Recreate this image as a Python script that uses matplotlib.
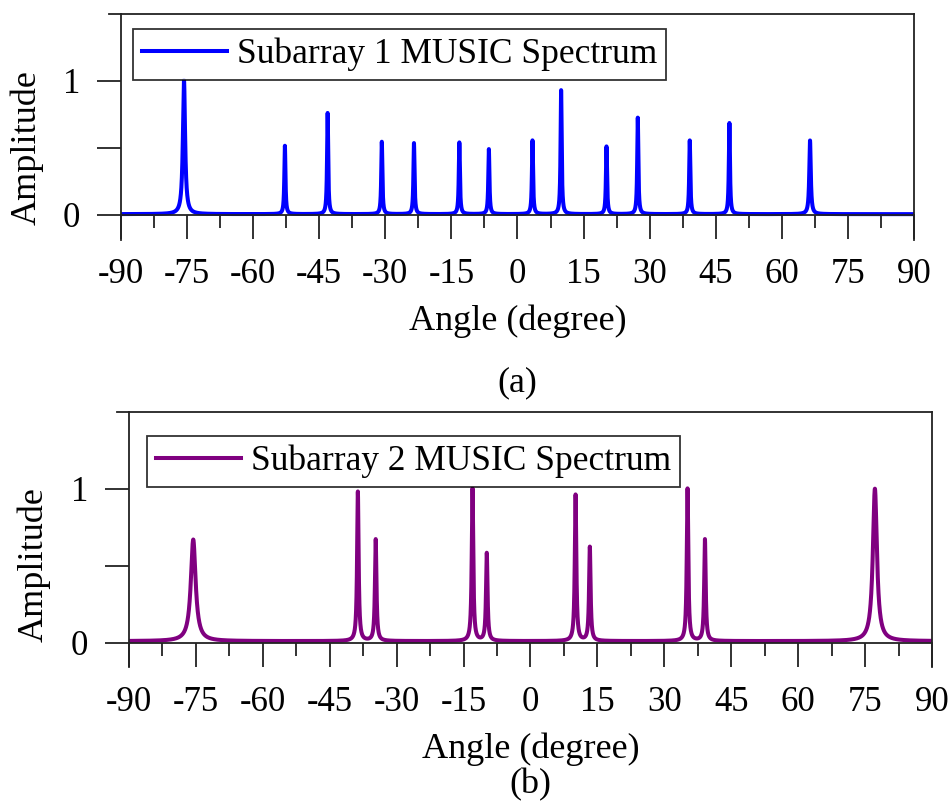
import numpy as np
import matplotlib
matplotlib.use("Agg")
import matplotlib.pyplot as plt
from matplotlib.ticker import MultipleLocator
from matplotlib.lines import Line2D

plt.rcParams["font.family"] = ["Liberation Serif", "DejaVu Serif"]

# peak angles (deg), heights and half-widths of each MUSIC spectrum
sub1_angles = [-75.7, -52.8, -43.1, -30.8, -23.5, -13.2, -6.5, 3.4, 9.9, 20.2, 27.3, 39.1, 48.1, 66.4]
sub1_amps = [1.0, 0.51, 0.755, 0.54, 0.53, 0.535, 0.485, 0.55, 0.925, 0.505, 0.72, 0.55, 0.68, 0.55]
sub1_widths = [0.3, 0.15, 0.15, 0.15, 0.15, 0.15, 0.15, 0.15, 0.15, 0.15, 0.15, 0.15, 0.15, 0.2]
sub1_floor = 0.006

sub2_angles = [-75.6, -38.7, -34.7, -13.0, -9.8, 10.1, 13.3, 35.2, 39.1, 77.2]
sub2_amps = [0.66, 0.97, 0.66, 0.99, 0.57, 0.95, 0.61, 0.99, 0.66, 0.99]
sub2_widths = [0.65, 0.2, 0.2, 0.2, 0.2, 0.2, 0.2, 0.2, 0.2, 0.55]
sub2_floor = 0.012

x_ticks = list(range(-90, 91, 15))


def spectrum(theta, angles, amps, widths, floor):
    y = np.full_like(theta, floor)
    for a, h, w in zip(angles, amps, widths):
        y = y + h * w**2 / ((theta - a) ** 2 + w**2)
    return y


theta = np.linspace(-90, 90, 18001)

fig = plt.figure(figsize=(9.53, 8.05), dpi=100)
W, H = 953, 805


def make_axes(left, right, top, bottom):
    return fig.add_axes([left / W, 1 - bottom / H, (right - left) / W, (bottom - top) / H])


def style(ax, ymin, label_y, color, data, label, legend_xy, tag, tag_y):
    ax.plot(theta, data, color=color, lw=2.9, label=label, solid_joinstyle="round")
    ax.set_xlim(-90, 90)
    ax.set_ylim(ymin, 1.5)
    ax.spines["bottom"].set_position(("data", 0))
    for s in ax.spines.values():
        s.set_linewidth(1.3)
        s.set_color("#222222")
    ax.set_xticks(x_ticks)
    ax.set_xticklabels([str(t) for t in x_ticks])
    ax.xaxis.set_minor_locator(MultipleLocator(7.5))
    ax.set_yticks([0, 0.5, 1])
    ax.set_yticklabels(["0", "", "1"])
    ax.tick_params(axis="x", which="major", direction="out", length=17.5, width=1.3,
                   labelsize=25, pad=13.5, color="#222222")
    ax.tick_params(axis="x", which="minor", direction="out", length=9.5, width=1.3, color="#222222")
    ax.tick_params(axis="y", which="major", direction="out", length=17.5, width=1.3,
                   labelsize=25, pad=12, color="#222222")
    ax.set_xlabel("Angle (degree)", fontsize=26, labelpad=10)
    ax.set_ylabel("Amplitude", fontsize=26)
    ax.yaxis.set_label_coords(-0.097, label_y)
    # small overhang of the top frame line past the left spine
    ax.add_line(Line2D([-0.015, 0], [1, 1], transform=ax.transAxes, color="#222222",
                       lw=1.3, clip_on=False))
    leg = ax.legend(loc="upper left", bbox_to_anchor=legend_xy, fontsize=25.5, frameon=True,
                    fancybox=False, borderaxespad=0, borderpad=0.25, handlelength=2.4,
                    handletextpad=0.3)
    leg.get_frame().set_edgecolor("black")
    leg.get_frame().set_linewidth(1.3)
    fig.text(ax.get_position().x0 + ax.get_position().width / 2, 1 - tag_y / H, tag,
             ha="center", va="center", fontsize=26)


ax1 = make_axes(121, 914, 14, 240)
style(ax1, -0.187, 0.41, "#0000ff",
      spectrum(theta, sub1_angles, sub1_amps, sub1_widths, sub1_floor),
      "Subarray 1 MUSIC Spectrum", (0.015, 0.934), "(a)", 383)

ax2 = make_axes(129, 932, 412, 667)
style(ax2, -0.156, 0.40, "#800080",
      spectrum(theta, sub2_angles, sub2_amps, sub2_widths, sub2_floor),
      "Subarray 2 MUSIC Spectrum", (0.022, 0.906), "(b)", 785)

fig.savefig("out.png", dpi=100)
